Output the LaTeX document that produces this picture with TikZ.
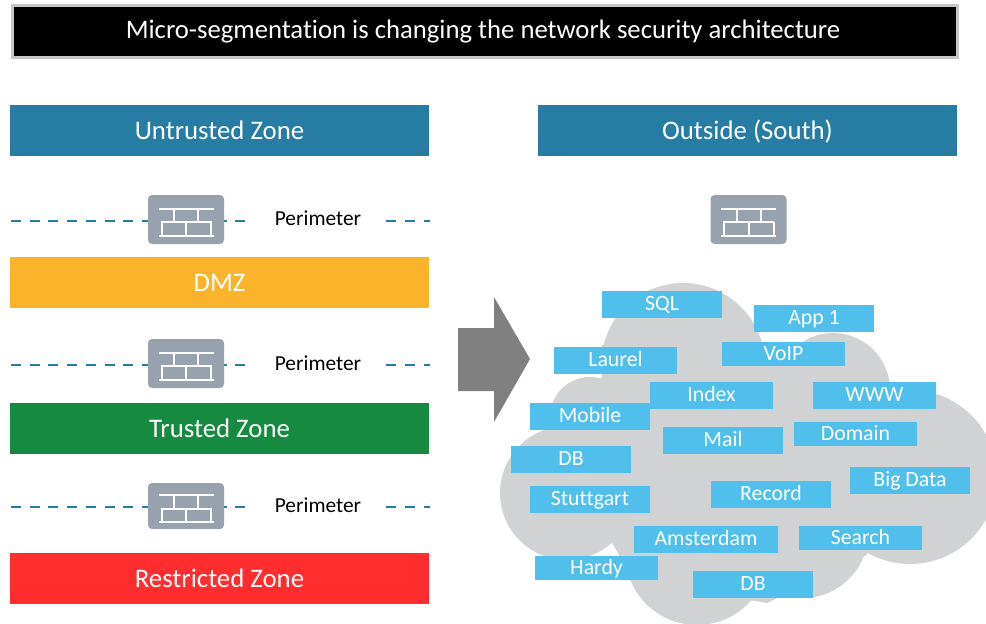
\documentclass[tikz,border=0pt]{standalone}
\usepackage{fontspec}
\setmainfont{Carlito}[Ligatures=NoCommon]
\usepackage{xcolor}
\usetikzlibrary{positioning}
\definecolor{zoneblue}{HTML}{277CA3}
\definecolor{zoneorange}{HTML}{FBB32B}
\definecolor{zonegreen}{HTML}{178A42}
\definecolor{zonered}{HTML}{FF2D2D}
\definecolor{wallgray}{HTML}{98A2AE}
\definecolor{cloudgray}{HTML}{D0D2D4}
\definecolor{tagblue}{HTML}{50BFEC}
\tikzstyle{zone} = [rectangle, minimum width=419pt, minimum height=51pt, inner sep=0pt, text=white, text height=19pt, text depth=2pt, font=\fontsize{26.8}{30}\selectfont]
\tikzstyle{wall} = [rectangle, rounded corners=4pt, fill=wallgray, minimum width=76pt, minimum height=49pt, inner sep=0pt]
\tikzstyle{bricks} = [white, line width=2pt]
\tikzstyle{perim} = [minimum width=136pt, inner sep=0pt, font=\fontsize{21.4}{24}\selectfont]
\tikzstyle{fence} = [zoneblue, line width=2pt, dash pattern=on 10pt off 8.7pt]
\tikzstyle{tag} = [rectangle, fill=tagblue, inner sep=0pt, text=white, text height=14pt, text depth=2pt, font=\fontsize{21.8}{24}\selectfont]
\begin{document}
\begin{tikzpicture}[x=1pt,y=-1pt]
			\useasboundingbox (0,0) rectangle (986,624);
			% title
			\node[name=T0, rectangle, draw=black!22, line width=3pt, fill=black, minimum width=945pt, minimum height=52pt, inner sep=0pt, text=white, font=\fontsize{26.7}{30}\selectfont] at (485,31.5) {\hspace*{-4pt}Micro-segmentation is changing the network security architecture};
			% zones
			\node[zone, fill=zoneblue, name=Z1] at (219.5,130.5) {Untrusted Zone};
			\node[zone, fill=zoneorange, name=Z2] at (219.5,282.5) {DMZ};
			\node[zone, fill=zonegreen, name=Z3] at (219.5,428.5) {Trusted Zone};
			\node[zone, fill=zonered, name=Z4] at (219.5,578.5) {Restricted Zone};
			\node[zone, fill=zoneblue, name=Z5] at (747.5,130.5) {Outside (South)};
			% perimeter lines
			\coordinate (L1) at (11,221);
			\coordinate (R1) at (430,221);
			\coordinate (L2) at (11,365);
			\coordinate (R2) at (430,365);
			\coordinate (L3) at (11,507);
			\coordinate (R3) at (430,507);
			\node[perim, name=P1] at (318,218) {Perimeter};
			\node[perim, name=P2] at (318,363) {Perimeter};
			\node[perim, name=P3] at (318,505) {Perimeter};
			\draw[fence] (L1) -- (L1 -| P1.west);
			\draw[fence] (R1 -| P1.east) -- (R1);
			\draw[fence] (L2) -- (L2 -| P2.west);
			\draw[fence] (R2 -| P2.east) -- (R2);
			\draw[fence] (L3) -- (L3 -| P3.west);
			\draw[fence] (R3 -| P3.east) -- (R3);
			% firewalls
			\node[wall, name=F1] at (186,219.5) {};
			\node[wall, name=F2] at (186,363.5) {};
			\node[wall, name=F3, minimum height=46pt] at (186,506) {};
			\node[wall, name=F4] at (748.5,219.5) {};
			\foreach \fw in {F1,F2,F3,F4} {
				\begin{scope}[shift={(\fw)}]
				\draw[bricks] (-27.5,-11) -- (27.5,-11);
				\draw[bricks] (-25.5,2.5) -- (25.5,2.5);
				\draw[bricks] (-27.5,16) -- (27.5,16);
				\draw[bricks] (-12,-11) -- (-12,2.5);
				\draw[bricks] (12,-11) -- (12,2.5);
				\draw[bricks] (-24.5,2.5) -- (-24.5,16);
				\draw[bricks] (0,2.5) -- (0,16);
				\draw[bricks] (25,2.5) -- (25,16);
				\end{scope}
			}
			% arrow
			\fill[black!50] (458,328) -- (494,328) -- (494,297) -- (530,359) -- (494,422) -- (494,391) -- (458,391) -- cycle;
			% cloud
			\begin{scope}
			\clip (0,0) rectangle (986,624);
			\fill[cloudgray] (683,365) circle (82);
			\fill[cloudgray] (833,390) circle (57);
			\fill[cloudgray] (910,477) circle (87);
			\fill[cloudgray] (590,417) circle (40);
			\fill[cloudgray] (567,493) circle (67);
			\fill[cloudgray] (697,553) circle (72);
			\fill[cloudgray] (803,533) circle (65);
			\fill[cloudgray] (602,377) -- (602,345) -- (767,342) -- (890,383) -- (867,555) -- (767,603) -- (627,580) -- (618,553) -- (545,430) -- cycle;
			\end{scope}
			% tags
			\coordinate (A01) at (662,304.5);
			\coordinate (A02) at (814,318.5);
			\coordinate (A03) at (723,440.5);
			\coordinate (A04) at (590,416.5);
			\coordinate (A05) at (571,459.5);
			\coordinate (A06) at (590,499.5);
			\coordinate (A07) at (771,494.5);
			\coordinate (A08) at (910,480.5);
			\coordinate (A09) at (753,584.5);
			\coordinate (B01) at (615.5,360.5);
			\coordinate (B02) at (711.5,395.5);
			\coordinate (B03) at (874.5,395.5);
			\coordinate (C01) at (783.5,354);
			\coordinate (C02) at (855.5,434);
			\coordinate (C03) at (860.5,538);
			\coordinate (C04) at (596.5,568);
			\coordinate (D01) at (706,539.5);
			\begin{scope}[every node/.style={tag, minimum width=120pt, minimum height=27pt}]
			\node[name=A01] at (A01) {SQL};
			\node[name=A02] at (A02) {App 1};
			\node[name=A03] at (A03) {Mail};
			\node[name=A04] at (A04) {Mobile};
			\node[name=A05] at (A05) {DB};
			\node[name=A06] at (A06) {Stuttgart};
			\node[name=A07] at (A07) {Record};
			\node[name=A08] at (A08) {Big Data};
			\node[name=A09] at (A09) {DB};
			\end{scope}
			\begin{scope}[every node/.style={tag, minimum width=123pt, minimum height=27pt}]
			\node[name=B01] at (B01) {Laurel};
			\node[name=B02] at (B02) {Index};
			\node[name=B03] at (B03) {WWW};
			\end{scope}
			\begin{scope}[every node/.style={tag, minimum width=123pt, minimum height=24pt}]
			\node[name=C01] at (C01) {VoIP};
			\node[name=C02] at (C02) {Domain};
			\node[name=C03] at (C03) {Search};
			\node[name=C04] at (C04) {Hardy};
			\end{scope}
			\begin{scope}[every node/.style={tag, minimum width=144pt, minimum height=27pt}]
			\node[name=D01] at (D01) {Amsterdam};
			\end{scope}
\end{tikzpicture}
\end{document}
